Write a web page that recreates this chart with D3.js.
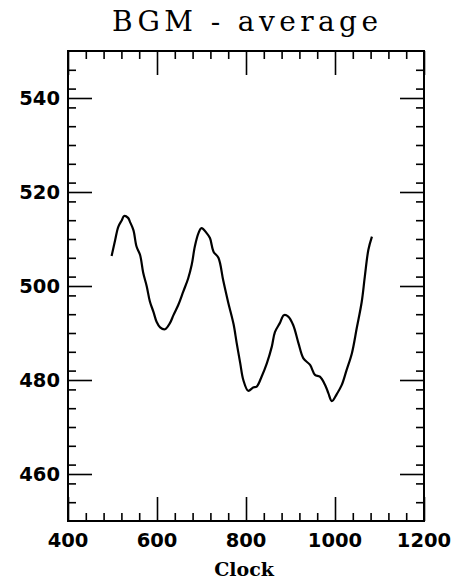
<!DOCTYPE html>
<html><head><meta charset="utf-8">
<script src="https://cdn.jsdelivr.net/npm/d3@7"></script>
<style>html,body{margin:0;padding:0;background:#fff;}svg{display:block;}</style>
</head><body>
<script>
const title = "BGM - average";
const xLabel = "Clock";
const clock = [498,506,513,521,526,535,539,547,554,562,569,577,584,592,599,607,618,629,637,648,659,670,678,685,693,700,712,719,727,738,749,760,772,779,787,794,805,816,824,835,847,858,865,876,885,895,906,918,929,944,955,966,978,985,993,1004,1015,1026,1038,1049,1060,1067,1075,1083];
const bgm = [506.4,509.8,512.6,514.0,514.9,514.5,513.7,511.9,508.4,506.6,502.8,499.9,496.7,494.5,492.4,491.2,490.8,492.1,493.8,496.0,498.8,501.6,504.5,508.4,511.2,512.3,511.2,510.2,507.3,506.0,501.1,496.5,491.9,487.9,483.6,480.0,477.7,478.4,478.6,480.7,483.6,487.1,490.2,492.1,493.8,493.5,491.7,487.8,484.6,483.2,481.1,480.7,478.9,477.2,475.5,477.0,478.9,482.1,485.7,491.1,496.6,502.0,507.7,510.5];
const xTicks = [400,600,800,1000,1200];
const yTicks = [460,480,500,520,540];
const xDomain = [400,1200];
const yDomain = [450,550];

const W = 456, H = 583;
const L = 68, R = 424, T = 51, B = 521;
const svg = d3.select("body").append("svg").attr("width",W).attr("height",H);
const x = d3.scaleLinear().domain(xDomain).range([L,R]);
const y = d3.scaleLinear().domain(yDomain).range([B,T]);

const xMinor = d3.range(xDomain[0], xDomain[1]+1, 40).filter(v=>!xTicks.includes(v));
const yMinor = d3.range(yDomain[0], yDomain[1]+1, 4).filter(v=>!yTicks.includes(v) && v>yDomain[0] && v<yDomain[1]);

const MAJ = 24, MIN = 8;
function ax(gen, tr, vals, size){
  svg.append("g").attr("transform",tr)
    .call(gen.tickValues(vals).tickSize(-size).tickFormat(""))
    .select(".domain").remove();
}
ax(d3.axisBottom(x), `translate(0,${B})`, xTicks, MAJ);
ax(d3.axisBottom(x), `translate(0,${B})`, xMinor, MIN);
ax(d3.axisTop(x), `translate(0,${T})`, xTicks, MAJ);
ax(d3.axisTop(x), `translate(0,${T})`, xMinor, MIN);
ax(d3.axisLeft(y), `translate(${L},0)`, yTicks, MAJ);
ax(d3.axisLeft(y), `translate(${L},0)`, yMinor, MIN);
ax(d3.axisRight(y), `translate(${R},0)`, yTicks, MAJ);
ax(d3.axisRight(y), `translate(${R},0)`, yMinor, MIN);
svg.selectAll(".tick line").attr("stroke","#000").attr("stroke-width",1.6);

// frame
svg.append("rect").attr("x",L).attr("y",T).attr("width",R-L).attr("height",B-T)
  .attr("fill","none").attr("stroke","#000").attr("stroke-width",2);

// tick labels
svg.append("g").selectAll("text").data(xTicks).join("text")
  .attr("x",d=>x(d)).attr("y",547).attr("text-anchor","middle")
  .attr("font-family","DejaVu Sans").attr("font-weight","bold").attr("font-size",19.5)
  .text(d=>d);
svg.append("g").selectAll("text").data(yTicks).join("text")
  .attr("x",L-8).attr("y",d=>y(d)+7.3).attr("text-anchor","end")
  .attr("font-family","DejaVu Sans").attr("font-weight","bold").attr("font-size",19.5)
  .text(d=>d);

// x label
svg.append("text").attr("x",(L+R)/2 - 2).attr("y",576).attr("text-anchor","middle")
  .attr("font-family","DejaVu Serif").attr("font-weight","bold").attr("font-size",19)
  .text(xLabel);

// title
svg.append("text").attr("x",112).attr("y",31)
  .attr("font-family","DejaVu Serif").attr("font-size",28)
  .attr("textLength",266).attr("lengthAdjust","spacing")
  .text(title);

// curve
const line = d3.line().x((d,i)=>x(clock[i])).y(d=>y(d)).curve(d3.curveCatmullRom.alpha(0.5));
svg.append("path").datum(bgm).attr("d",line).attr("fill","none")
  .attr("stroke","#000").attr("stroke-width",2.2).attr("stroke-linejoin","round");
</script>
</body></html>
